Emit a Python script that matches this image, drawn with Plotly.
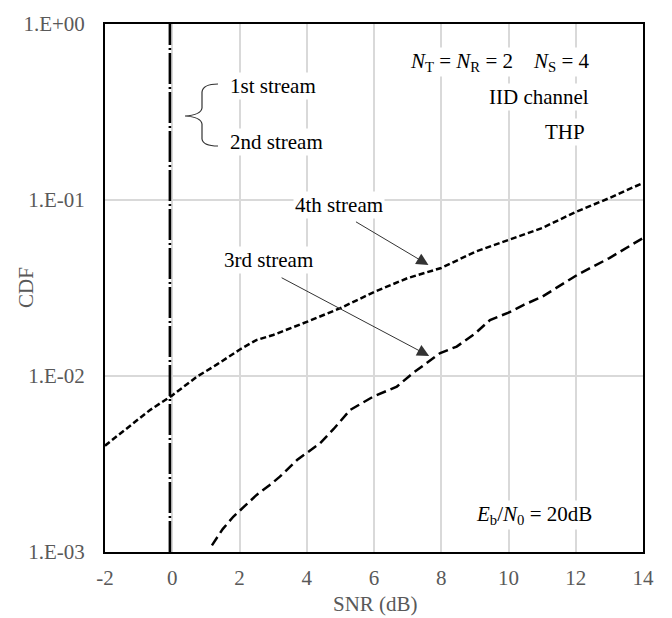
import plotly.graph_objects as go

# ---------------- data ----------------
snr_12 = [-0.07, -0.07]
cdf_12 = [1e-3, 1.0]

snr_4th = [-2.0, -1.36, -0.66, 0.0, 0.73, 1.32, 2.0, 2.5, 3.0, 4.0, 5.0, 6.0, 7.0,
           8.0, 9.0, 10.0, 11.0, 12.0, 13.0, 14.0]
cdf_4th = [4.02e-3, 5.05e-3, 6.41e-3, 7.76e-3, 9.9e-3, 1.16e-2, 1.41e-2, 1.60e-2,
           1.71e-2, 2.03e-2, 2.43e-2, 3.00e-2, 3.60e-2, 4.11e-2, 5.07e-2, 5.93e-2,
           6.93e-2, 8.55e-2, 1.026e-1, 1.25e-1]

snr_3rd = [1.18, 1.5, 1.82, 2.2, 2.51, 2.9, 3.2, 3.71, 4.4, 4.8, 5.29, 5.97, 6.68,
           7.16, 7.97, 8.46, 9.0, 9.45, 10.0, 10.44, 11.0, 12.04, 13.0, 14.0]
cdf_3rd = [1.09e-3, 1.35e-3, 1.59e-3, 1.86e-3, 2.11e-3, 2.40e-3, 2.68e-3, 3.33e-3,
           4.16e-3, 5.0e-3, 6.41e-3, 7.62e-3, 8.71e-3, 1.04e-2, 1.35e-2, 1.47e-2,
           1.74e-2, 2.08e-2, 2.29e-2, 2.53e-2, 2.82e-2, 3.75e-2, 4.68e-2, 6.08e-2]

x_ticks = [-2, 0, 2, 4, 6, 8, 10, 12, 14]
x_tick_text = ["-2", "0", "2", "4", "6", "8", "10", "12", "14"]
y_ticks = [1e-3, 1e-2, 1e-1, 1.0]
y_tick_text = ["1.E-03", "1.E-02", "1.E-01", "1.E+00"]

# ---------------- layout helpers ----------------
# the page body has an 8px margin, so the figure is shifted by 8px on screen
OFF = 8
W, H = 672 - OFF, 618 - OFF
SL, SR, ST, SB = 105, 643, 24, 552          # plot area in screen pixels
L, T = SL - OFF, ST - OFF
R, B = W - (SR - OFF), H - (SB - OFF)
PW, PH = SR - SL, SB - ST


def px_x(p):
    return (p - SL) / PW


def px_y(p):
    return (SB - p) / PH


FONT = "Liberation Serif"
GRAY = "#595959"

fig = go.Figure()
fig.add_trace(go.Scatter(x=snr_12, y=cdf_12, mode="lines",
                         line=dict(color="black", width=2.6, dash="31px,3px,2px,3px"),
                         showlegend=False))
fig.add_trace(go.Scatter(x=snr_4th, y=cdf_4th, mode="lines",
                         line=dict(color="black", width=2.5, dash="6px,3px"),
                         showlegend=False))
fig.add_trace(go.Scatter(x=snr_3rd, y=cdf_3rd, mode="lines",
                         line=dict(color="black", width=2.5, dash="10px,5px"),
                         showlegend=False))

annotations = []


def txt(text, xp, yp, xanchor="center", size=21, color="black", angle=0):
    annotations.append(dict(text=text, x=px_x(xp), y=px_y(yp), xref="paper", yref="paper",
                            xanchor=xanchor, yanchor="middle", showarrow=False,
                            textangle=angle, bgcolor="white" if color == "black" else None,
                            borderpad=1,
                            font=dict(family=FONT, size=size, color=color)))


txt("<i>N</i><sub>T</sub> = <i>N</i><sub>R</sub> = 2&nbsp;&nbsp;&nbsp;&nbsp;<i>N</i><sub>S</sub> = 4",
    500, 62)
txt("IID channel", 591, 97, xanchor="right")
txt("THP", 565, 132)
txt("<i>E</i><sub>b</sub>/<i>N</i><sub>0</sub> = 20dB", 594, 515, xanchor="right")
txt("1st stream", 228, 86, xanchor="left")
txt("2nd stream", 228, 142, xanchor="left")
txt("4th stream", 339, 205)
txt("3rd stream", 268, 260)
txt("CDF", 26, 288, color=GRAY, angle=-90)
txt("SNR (dB)", 375, 604, color=GRAY)

# arrows (tip in data coords, tail offset in pixels)
for tipx, tipy, ax, ay in [(7.62, -1.369, -74, -44), (7.64, -1.886, -149, -79)]:
    annotations.append(dict(text="", x=tipx, y=tipy, xref="x", yref="y",
                            showarrow=True, ax=ax, ay=ay, axref="pixel", ayref="pixel",
                            arrowhead=2, arrowsize=2.4, arrowwidth=1,
                            arrowcolor="#333333", standoff=0, startstandoff=0))

# brace
bp = [(218, 84), (203, 84), (202, 92), (202, 108), (201, 115), (185, 116), (201, 117),
      (202, 124), (202, 139), (203, 146), (218, 146)]
pp = [(px_x(a), px_y(b)) for a, b in bp]
path = (f"M {pp[0][0]},{pp[0][1]} Q {pp[1][0]},{pp[1][1]} {pp[2][0]},{pp[2][1]} "
        f"L {pp[3][0]},{pp[3][1]} Q {pp[4][0]},{pp[4][1]} {pp[5][0]},{pp[5][1]} "
        f"Q {pp[6][0]},{pp[6][1]} {pp[7][0]},{pp[7][1]} L {pp[8][0]},{pp[8][1]} "
        f"Q {pp[9][0]},{pp[9][1]} {pp[10][0]},{pp[10][1]}")

fig.update_layout(
    width=W, height=H,
    margin=dict(l=L, r=R, t=T, b=B, pad=0, autoexpand=False),
    paper_bgcolor="white", plot_bgcolor="white",
    annotations=annotations,
    shapes=[dict(type="path", path=path, xref="paper", yref="paper",
                 line=dict(color="#333333", width=1.2))],
    font=dict(family=FONT, size=20, color=GRAY),
)
fig.update_xaxes(range=[-2, 14], tickvals=x_ticks, ticktext=x_tick_text, showgrid=True,
                 gridcolor="#d9d9d9", gridwidth=1.5, zeroline=False, showline=True,
                 linecolor="black", linewidth=2, mirror=True, ticks="",
                 ticklabelstandoff=6, automargin=False,
                 tickfont=dict(family=FONT, size=21, color=GRAY))
fig.update_yaxes(type="log", range=[-3, 0], tickvals=y_ticks, ticktext=y_tick_text,
                 showgrid=True, gridcolor="#d9d9d9", gridwidth=1.5, zeroline=False,
                 showline=True, linecolor="black", linewidth=2, mirror=True, ticks="",
                 ticklabelstandoff=14, automargin=False,
                 tickfont=dict(family=FONT, size=21, color=GRAY))

fig.write_html("out.html")
